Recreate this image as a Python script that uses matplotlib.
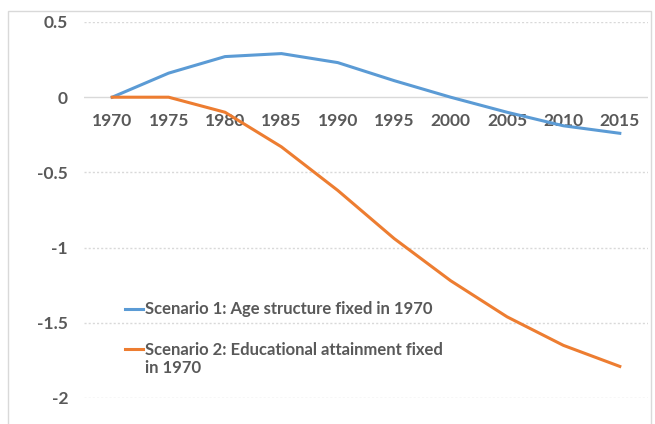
import matplotlib
matplotlib.use("Agg")
import matplotlib.pyplot as plt
from matplotlib.patches import Rectangle
from matplotlib.legend_handler import HandlerLine2D

years = [1970, 1975, 1980, 1985, 1990, 1995, 2000, 2005, 2010, 2015]
scenario1 = [0.0, 0.16, 0.27, 0.29, 0.23, 0.11, 0.0, -0.10, -0.19, -0.24]
scenario2 = [0.0, 0.0, -0.10, -0.33, -0.62, -0.94, -1.22, -1.46, -1.65, -1.79]
yticks = [0.5, 0, -0.5, -1, -1.5, -2]
ytick_labels = ["0.5", "0", "-0.5", "-1", "-1.5", "-2"]
label1 = "Scenario 1: Age structure fixed in 1970"
label2 = "Scenario 2: Educational attainment fixed\nin 1970"

plt.rcParams['font.family'] = ['Lato', 'DejaVu Sans']
TXT = "#595959"
W, H = 655, 424
fig = plt.figure(figsize=(W / 100, H / 100), dpi=100)
fig.patch.set_facecolor("white")

# outer chart frame (left and top edges visible)
fig.patches.append(Rectangle((8 / W, -0.1), 643 / W, (H - 11) / H + 0.1,
                             transform=fig.transFigure, fill=False,
                             edgecolor="#d9d9d9", linewidth=1.0))

ax = fig.add_axes([84 / W, (H - 398) / H, (648 - 84) / W, (398 - 22) / H])
ax.set_xlim(1967.5, 2017.5)
ax.set_ylim(-2, 0.5)

for y in yticks:
    if y == 0:
        ax.axhline(y, color="#d9d9d9", linewidth=1.0, zorder=1)
    else:
        ax.axhline(y, color="#d9d9d9", linewidth=1.0, linestyle=(0, (1.5, 1.5)), zorder=1)

ax.plot(years, scenario1, color="#5b9bd5", linewidth=2.2, label=label1, zorder=3,
        solid_joinstyle="round")
ax.plot(years, scenario2, color="#ed7d31", linewidth=2.2, label=label2, zorder=3,
        solid_joinstyle="round")

for s in ax.spines.values():
    s.set_visible(False)
ax.set_xticks([])
ax.set_yticks(yticks)
ax.set_yticklabels(ytick_labels, fontsize=12.5, fontweight="bold", color=TXT)
ax.tick_params(axis="y", length=0, pad=11.5)

for yr in years:
    ax.text(yr, -0.16, str(yr), ha="center", va="center", fontsize=12.5,
            fontweight="bold", color=TXT, zorder=2)


class TopLineHandler(HandlerLine2D):
    """Put the legend key level with the first line of a wrapped label."""
    def create_artists(self, legend, orig_handle, xdescent, ydescent, width,
                       height, fontsize, trans):
        arts = super().create_artists(legend, orig_handle, xdescent, ydescent,
                                      width, height, fontsize, trans)
        if "\n" in orig_handle.get_label():
            for a in arts:
                a.set_ydata([v + 7.3 for v in a.get_ydata()])
        return arts


leg = ax.legend(loc="upper left", bbox_to_anchor=(0.0727, 0.257), frameon=False,
                fontsize=12, handlelength=1.1, handletextpad=0.12, labelspacing=1.45,
                borderaxespad=0, borderpad=0,
                handler_map={plt.Line2D: TopLineHandler()})
for t in leg.get_texts():
    t.set_color(TXT)
    t.set_fontweight("bold")
    t.set_linespacing(1.2)
for h in leg.get_lines():
    h.set_linewidth(2.2)

fig.savefig("out.png", dpi=100)
